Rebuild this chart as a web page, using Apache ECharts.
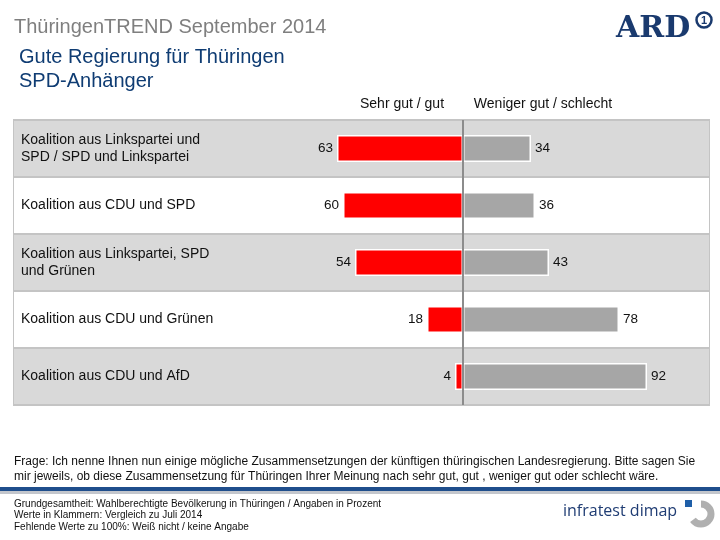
<!DOCTYPE html>
<html>
<head>
<meta charset="utf-8">
<script src="https://cdn.jsdelivr.net/npm/echarts@6/dist/echarts.min.js"></script>
<style>
html,body{margin:0;padding:0;background:#fff;}
#chart{width:720px;height:540px;}
</style>
</head>
<body>
<div id="chart"></div>
<script>
const categories = [
  'Koalition aus Linkspartei und\nSPD / SPD und Linkspartei',
  'Koalition aus CDU und SPD',
  'Koalition aus Linkspartei, SPD\nund Grünen',
  'Koalition aus CDU und Grünen',
  'Koalition aus CDU und AfD'
];
const goodValues = [63, 60, 54, 18, 4];
const badValues = [34, 36, 43, 78, 92];
const seriesNames = ['Sehr gut / gut', 'Weniger gut / schlecht'];

const FONT = '"Liberation Sans", Arial, sans-serif';
const chart = echarts.init(document.getElementById('chart'));

const option = {
  backgroundColor: '#ffffff',
  animation: false,
  textStyle: { fontFamily: FONT },
  grid: {
    left: 14, right: 11, top: 120, height: 285,
    show: true, borderColor: '#c4c4c4', borderWidth: 2, backgroundColor: 'transparent',
    containLabel: false
  },
  xAxis: {
    type: 'value', min: -224.5, max: 123,
    axisLine: { show: false }, axisTick: { show: false },
    axisLabel: { show: false }, splitLine: { show: false }
  },
  yAxis: {
    type: 'category', data: categories, inverse: true,
    axisLine: { show: false }, axisTick: { show: false },
    axisLabel: {
      inside: true, margin: 7, color: '#111', fontSize: 14, lineHeight: 17,
      fontFamily: FONT, align: 'left'
    },
    splitLine: { show: true, lineStyle: { color: '#c4c4c4', width: 2 } },
    splitArea: { show: true, areaStyle: { color: ['#d9d9d9', '#ffffff'] } }
  },
  series: [
    {
      name: seriesNames[0], type: 'bar', barWidth: 27, barGap: '-100%',
      data: goodValues.map(v => -v),
      itemStyle: { color: '#ff0000', borderColor: '#ffffff', borderWidth: 1.5 },
      label: {
        show: true, position: 'left', distance: 4, color: '#111', fontSize: 13.5,
        fontFamily: FONT, formatter: p => Math.abs(p.value)
      },
      z: 3
    },
    {
      name: seriesNames[1], type: 'bar', barWidth: 27, barGap: '-100%',
      data: badValues,
      itemStyle: { color: '#a6a6a6', borderColor: '#ffffff', borderWidth: 1.5 },
      label: {
        show: true, position: 'right', distance: 4, color: '#111', fontSize: 13.5,
        fontFamily: FONT
      },
      markLine: {
        silent: true, symbol: ['none', 'none'], label: { show: false },
        lineStyle: { color: '#8c8c8c', width: 2, type: 'solid' },
        data: [{ xAxis: 0 }]
      },
      z: 3
    }
  ],
  graphic: [
    { type: 'text', left: 14, top: 17, style: { text: 'ThüringenTREND September 2014', fill: '#7f7f7f', font: '20px ' + FONT } },
    { type: 'text', left: 19, top: 47, style: { text: 'Gute Regierung für Thüringen', fill: '#0f3c73', font: '20px ' + FONT } },
    { type: 'text', left: 19, top: 71, style: { text: 'SPD-Anhänger', fill: '#0f3c73', font: '20px ' + FONT } },
    { type: 'text', x: 402, y: 104, style: { text: seriesNames[0], fill: '#111', font: '14px ' + FONT, align: 'center', verticalAlign: 'middle' } },
    { type: 'text', x: 543, y: 104, style: { text: seriesNames[1], fill: '#111', font: '14px ' + FONT, align: 'center', verticalAlign: 'middle' } },
    // ARD logo
    { type: 'text', left: 616, top: 14, style: { text: 'ARD', fill: '#1a3a6e', font: 'bold 30px "DejaVu Serif", "Liberation Serif", serif' } },
    { type: 'circle', shape: { cx: 704, cy: 20, r: 7.5 }, style: { fill: '#fff', stroke: '#1a3a6e', lineWidth: 2.5 } },
    { type: 'text', x: 704, y: 20.5, style: { text: '1', fill: '#1a3a6e', font: 'bold 11px ' + FONT, align: 'center', verticalAlign: 'middle' } },
    // Footer
    { type: 'text', left: 14, top: 454, style: { text: 'Frage: Ich nenne Ihnen nun einige mögliche Zusammensetzungen der künftigen thüringischen Landesregierung. Bitte sagen Sie\nmir jeweils, ob diese Zusammensetzung für Thüringen Ihrer Meinung nach sehr gut, gut , weniger gut oder schlecht wäre.', fill: '#111', font: '12px ' + FONT, lineHeight: 15 } },
    { type: 'rect', shape: { x: 0, y: 487, width: 720, height: 4 }, style: { fill: '#1f4e8c' } },
    { type: 'rect', shape: { x: 0, y: 491, width: 720, height: 3 }, style: { fill: '#c3c6cc' } },
    { type: 'text', left: 14, top: 498, style: { text: 'Grundgesamtheit: Wahlberechtigte Bevölkerung in Thüringen / Angaben in Prozent\nWerte in Klammern: Vergleich zu Juli 2014\nFehlende Werte zu 100%: Weiß nicht / keine Angabe', fill: '#111', font: '10px ' + FONT, lineHeight: 11.5 } },
    // infratest dimap logo
    { type: 'text', left: 563, top: 503, style: { text: 'infratest dimap', fill: '#1f3c73', font: '16px "Open Sans", ' + FONT } },
    { type: 'arc', shape: { cx: 701, cy: 514, r: 10, startAngle: -Math.PI / 2, endAngle: Math.PI * 0.8 }, style: { stroke: '#b0b0b0', lineWidth: 7, fill: 'none' } },
    { type: 'rect', shape: { x: 685, y: 500, width: 7, height: 7 }, style: { fill: '#1f5fa8' } }
  ]
};
chart.setOption(option);
</script>
</body>
</html>
